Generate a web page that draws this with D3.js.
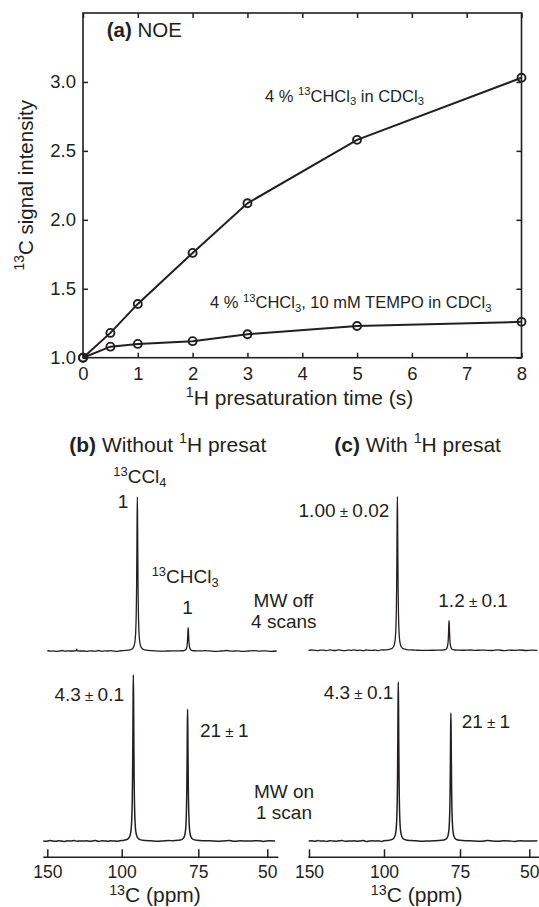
<!DOCTYPE html>
<html><head><meta charset="utf-8">
<script src="https://cdn.jsdelivr.net/npm/d3@7"></script>
<style>
html,body{margin:0;padding:0;background:#fff;}
svg{display:block;font-family:"Liberation Sans",Arial,Helvetica,sans-serif;}
text{fill:#231f20;}
</style></head>
<body>
<svg id="chart" width="539" height="907"></svg>
<script>
// ---------- data (panel a) ----------
const times = [0, 0.5, 1, 2, 3, 5, 8];
const noeNeat = [1.00, 1.18, 1.39, 1.76, 2.12, 2.58, 3.03];
const noeTempo = [1.00, 1.08, 1.10, 1.12, 1.17, 1.23, 1.26];
const xTicks = [0, 1, 2, 3, 4, 5, 6, 7, 8];
const yTicks = [1.0, 1.5, 2.0, 2.5, 3.0];

// ---------- data (panels b, c) ----------
const ppmTicks = [150, 100, 75, 50];
const spectrumIds = ["bOff", "cOff", "bOn", "cOn"];
const ccl4Ppm = [94.9, 95.6, 96.2, 95.3];
const ccl4Int = [1.00, 1.00, 1.078, 1.032];
const chcl3Ppm = [78.3, 78.6, 78.5, 78.0];
const chcl3Int = [0.151, 0.192, 0.855, 0.831];
const minorPpm = [130.2, null, null, null];
const minorInt = [0.012, 0, 0, 0];
const specStart = [150.0, 150.4, 152.7, 150.2];
const specEnd = [46.6, 47.1, 47.2, 47.1];
// lineshape (offset in ppm, relative height)
const shapeOffset = [-5, -3, -2, -1.4, -1, -0.7, -0.5, -0.35, -0.25, -0.15, -0.08, 0, 0.08, 0.15, 0.25, 0.35, 0.5, 0.7, 1, 1.4, 2, 3, 5];
const shapeValue = [0.002, 0.005, 0.01, 0.02, 0.038, 0.075, 0.14, 0.25, 0.39, 0.64, 0.86, 1, 0.86, 0.64, 0.39, 0.25, 0.14, 0.075, 0.038, 0.02, 0.01, 0.005, 0.002];
// baseline noise (thousandths of the reference CCl4 height)
const noiseBOff = [3,-2,1,-4,0,5,-2,2,-5,3,0,-2,4,-3,1,0,-2,5,-4,2,0,3,-1,-4,2,5,-2,0,4,-3,1,-2,0,3,-5,2,0,-1,4,1,-3,0,5,-2,2,-4,0,3,-1,2,-3,0];
const noiseCOff = [-2,3,0,-4,2,1,-3,4,0,-2,5,-1,-3,2,0,4,-2,1,-5,3,0,-1,2,-3,4,0,-2,3,-4,1,2,-1,0,-3,5,-2,1,0,-4,3,-1,2,0,-2,4,-3,1,0,3,-2,1,-1];
const noiseBOn = [1,-3,4,0,-2,3,-1,-4,2,0,5,-3,1,-1,3,-2,0,4,-5,2,1,-2,3,0,-3,4,-1,2,-4,0,3,-2,1,5,-3,0,-1,2,-4,3,0,-2,1,4,-3,2,-1,0,3,-4,2,0];
const noiseCOn = [0,2,-3,4,-1,1,-4,3,0,-2,2,5,-3,0,-1,3,-2,1,4,-4,0,2,-1,3,-5,1,0,-2,4,-1,2,-3,0,3,-2,1,5,-4,0,2,-1,-3,4,0,-2,3,1,-4,2,0,-1,3];
const noises = [noiseBOff, noiseCOff, noiseBOn, noiseCOn];

const svg = d3.select("#chart");
const ink = "#231f20";

function rich(parent, x, y, segs, size, anchor, supShift) {
  const t = parent.append("text").attr("x", x).attr("y", y)
    .attr("font-size", size).attr("text-anchor", anchor || "start");
  let shift = 0;
  const sup = supShift || 0.4;
  segs.forEach(([str, style]) => {
    let target = 0, fs = size;
    if (style === "sup") { target = -sup * size; fs = 0.68 * size; }
    else if (style === "sub") { target = 0.22 * size; fs = 0.68 * size; }
    else if (style === "pm") { fs = 0.8 * size; }
    const ts = t.append("tspan").attr("font-size", fs).attr("dy", target - shift).text(str);
    if (style === "b") ts.attr("font-weight", "bold");
    shift = target;
  });
  return t;
}

// ================= panel (a) =================
const L = 83, R = 521.5, T = 13, B = 357.7;
const x = d3.scaleLinear().domain([0, 8]).range([L, R]);
const y = d3.scaleLinear().domain([1, 3.5]).range([B, T]);
const ga = svg.append("g");

function styleAxis(g) {
  g.select(".domain").remove();
  g.selectAll(".tick line").attr("stroke", ink).attr("stroke-width", 1.5);
  g.selectAll(".tick text").attr("fill", ink).attr("font-size", 18.5)
    .attr("font-family", "Liberation Sans, Arial, sans-serif");
}
ga.append("g").attr("transform", `translate(0,${B})`)
  .call(d3.axisBottom(x).tickValues(xTicks).tickSize(-5).tickPadding(9).tickFormat(d3.format("d"))).call(styleAxis);
ga.append("g").attr("transform", `translate(0,${T})`)
  .call(d3.axisTop(x).tickValues(xTicks).tickSize(-5).tickFormat("")).call(styleAxis);
ga.append("g").attr("transform", `translate(${L},0)`)
  .call(d3.axisLeft(y).tickValues(yTicks).tickSize(-5).tickPadding(7).tickFormat(d3.format(".1f"))).call(styleAxis);
ga.append("g").attr("transform", `translate(${R},0)`)
  .call(d3.axisRight(y).tickValues(yTicks).tickSize(-5).tickFormat("")).call(styleAxis);
ga.append("rect").attr("x", L).attr("y", T).attr("width", R - L).attr("height", B - T)
  .attr("fill", "none").attr("stroke", ink).attr("stroke-width", 1.6);

const line = d3.line().x(d => x(d[0])).y(d => y(d[1]));
[noeNeat, noeTempo].forEach(vals => {
  const pts = times.map((t, i) => [t, vals[i]]);
  ga.append("path").datum(pts).attr("d", line).attr("fill", "none")
    .attr("stroke", ink).attr("stroke-width", 2);
  ga.selectAll(null).data(pts).enter().append("circle")
    .attr("cx", d => x(d[0])).attr("cy", d => y(d[1])).attr("r", 4)
    .attr("fill", "none").attr("stroke", ink).attr("stroke-width", 1.9);
});

rich(ga, 106.7, 36.7, [["(a)", "b"], [" NOE", ""]], 20.5);
rich(ga, 265, 101.5, [["4 % ", ""], ["13", "sup"], ["CHCl", ""], ["3", "sub"], [" in CDCl", ""], ["3", "sub"]], 16.5);
rich(ga, 210, 308.3, [["4 % ", ""], ["13", "sup"], ["CHCl", ""], ["3", "sub"], [", 10 mM TEMPO in CDCl", ""], ["3", "sub"]], 16.5);
rich(ga, 299.5, 405, [["1", "sup"], ["H presaturation time (s)", ""]], 21, "middle");
rich(ga.append("g").attr("transform", `translate(32.5,${(T + B) / 2}) rotate(-90)`), 0, 0,
  [["13", "sup"], ["C signal intensity", ""]], 20.5, "middle");

// ================= panels (b), (c) =================
const ppmB = d3.scaleLinear().domain(ppmTicks).range([47.3, 121.7, 198.3, 267.3]);
const ppmC = d3.scaleLinear().domain(ppmTicks).range([309, 384, 460, 529.3]);
const specScales = [ppmB, ppmC, ppmB, ppmC];
const specBase = [651, 650.3, 841, 841];
const pxPerUnit = 154;

function buildSpectrum(i) {
  const peaks = [[ccl4Ppm[i], ccl4Int[i]], [chcl3Ppm[i], chcl3Int[i]]];
  if (minorPpm[i] !== null) peaks.push([minorPpm[i], minorInt[i]]);
  const nz = noises[i], n = nz.length, pts = [];
  nz.forEach((v, k) => {
    const p = specStart[i] + (specEnd[i] - specStart[i]) * k / (n - 1);
    if (peaks.every(pk => Math.abs(p - pk[0]) > 5.2)) pts.push([p, v / 1600]);
  });
  peaks.forEach(pk => shapeOffset.forEach((o, j) => pts.push([pk[0] + o, pk[1] * shapeValue[j]])));
  pts.sort((a, b) => b[0] - a[0]);
  return pts;
}

const gs = svg.append("g");
spectrumIds.forEach((id, i) => {
  const xs = specScales[i];
  const ys = d3.scaleLinear().domain([0, 1]).range([specBase[i], specBase[i] - pxPerUnit]);
  const ln = d3.line().x(d => xs(d[0])).y(d => ys(d[1])).curve(d3.curveMonotoneX);
  gs.append("path").datum(buildSpectrum(i).map(d => [-d[0], d[1]]))
    .attr("d", d3.line().x(d => xs(-d[0])).y(d => ys(d[1])).curve(d3.curveMonotoneX))
    .attr("fill", "none")
    .attr("stroke", ink).attr("stroke-width", i < 2 ? 1.3 : 1.5).attr("stroke-linejoin", "round");
});

// ppm axes
const axisY = 857.3;
[[ppmB, 152.7, 46.0], [ppmC, 150.4, 46.4]].forEach(([sc, a, b]) => {
  const g = gs.append("g").attr("transform", `translate(0,${axisY})`)
    .call(d3.axisBottom(sc).tickValues(ppmTicks).tickSize(-8).tickPadding(8).tickFormat(d3.format("d")));
  g.select(".domain").remove();
  g.selectAll(".tick line").attr("stroke", ink).attr("stroke-width", 1.5);
  g.selectAll(".tick text").attr("fill", ink).attr("font-size", 17.5)
    .attr("font-family", "Liberation Sans, Arial, sans-serif");
  g.append("line").attr("x1", sc(a)).attr("x2", sc(b)).attr("stroke", ink).attr("stroke-width", 1.5);
});
rich(gs, 155, 902, [["13", "sup"], ["C (ppm)", ""]], 21, "middle", 0.33);
rich(gs, 416.7, 902, [["13", "sup"], ["C (ppm)", ""]], 21, "middle", 0.33);

// titles
rich(gs, 69.3, 451.7, [["(b)", "b"], [" Without ", ""], ["1", "sup"], ["H presat", ""]], 21);
rich(gs, 334.3, 451.7, [["(c)", "b"], [" With ", ""], ["1", "sup"], ["H presat", ""]], 21);

// annotations
const fs = 19;
rich(gs, 113.3, 483.3, [["13", "sup"], ["CCl", ""], ["4", "sub"]], fs);
rich(gs, 123, 508.3, [["1", ""]], fs, "middle");
rich(gs, 151.7, 583.3, [["13", "sup"], ["CHCl", ""], ["3", "sub"]], fs);
rich(gs, 187.5, 614.3, [["1", ""]], fs, "middle");
rich(gs, 283.5, 606.7, [["MW off", ""]], fs, "middle");
rich(gs, 283.8, 628.3, [["4 scans", ""]], fs, "middle");
rich(gs, 284, 798.3, [["MW on", ""]], fs, "middle");
rich(gs, 284, 819.3, [["1 scan", ""]], fs, "middle");
rich(gs, 389.3, 516.7, [["1.00", ""], [" ± ", "pm"], ["0.02", ""]], fs, "end");
rich(gs, 438.3, 606.7, [["1.2", ""], [" ± ", "pm"], ["0.1", ""]], fs);
rich(gs, 124, 700.7, [["4.3", ""], [" ± ", "pm"], ["0.1", ""]], fs, "end");
rich(gs, 393.3, 699.3, [["4.3", ""], [" ± ", "pm"], ["0.1", ""]], fs, "end");
rich(gs, 200, 736.7, [["21", ""], [" ± ", "pm"], ["1", ""]], fs);
rich(gs, 461.7, 727.7, [["21", ""], [" ± ", "pm"], ["1", ""]], fs);
</script>
</body></html>
